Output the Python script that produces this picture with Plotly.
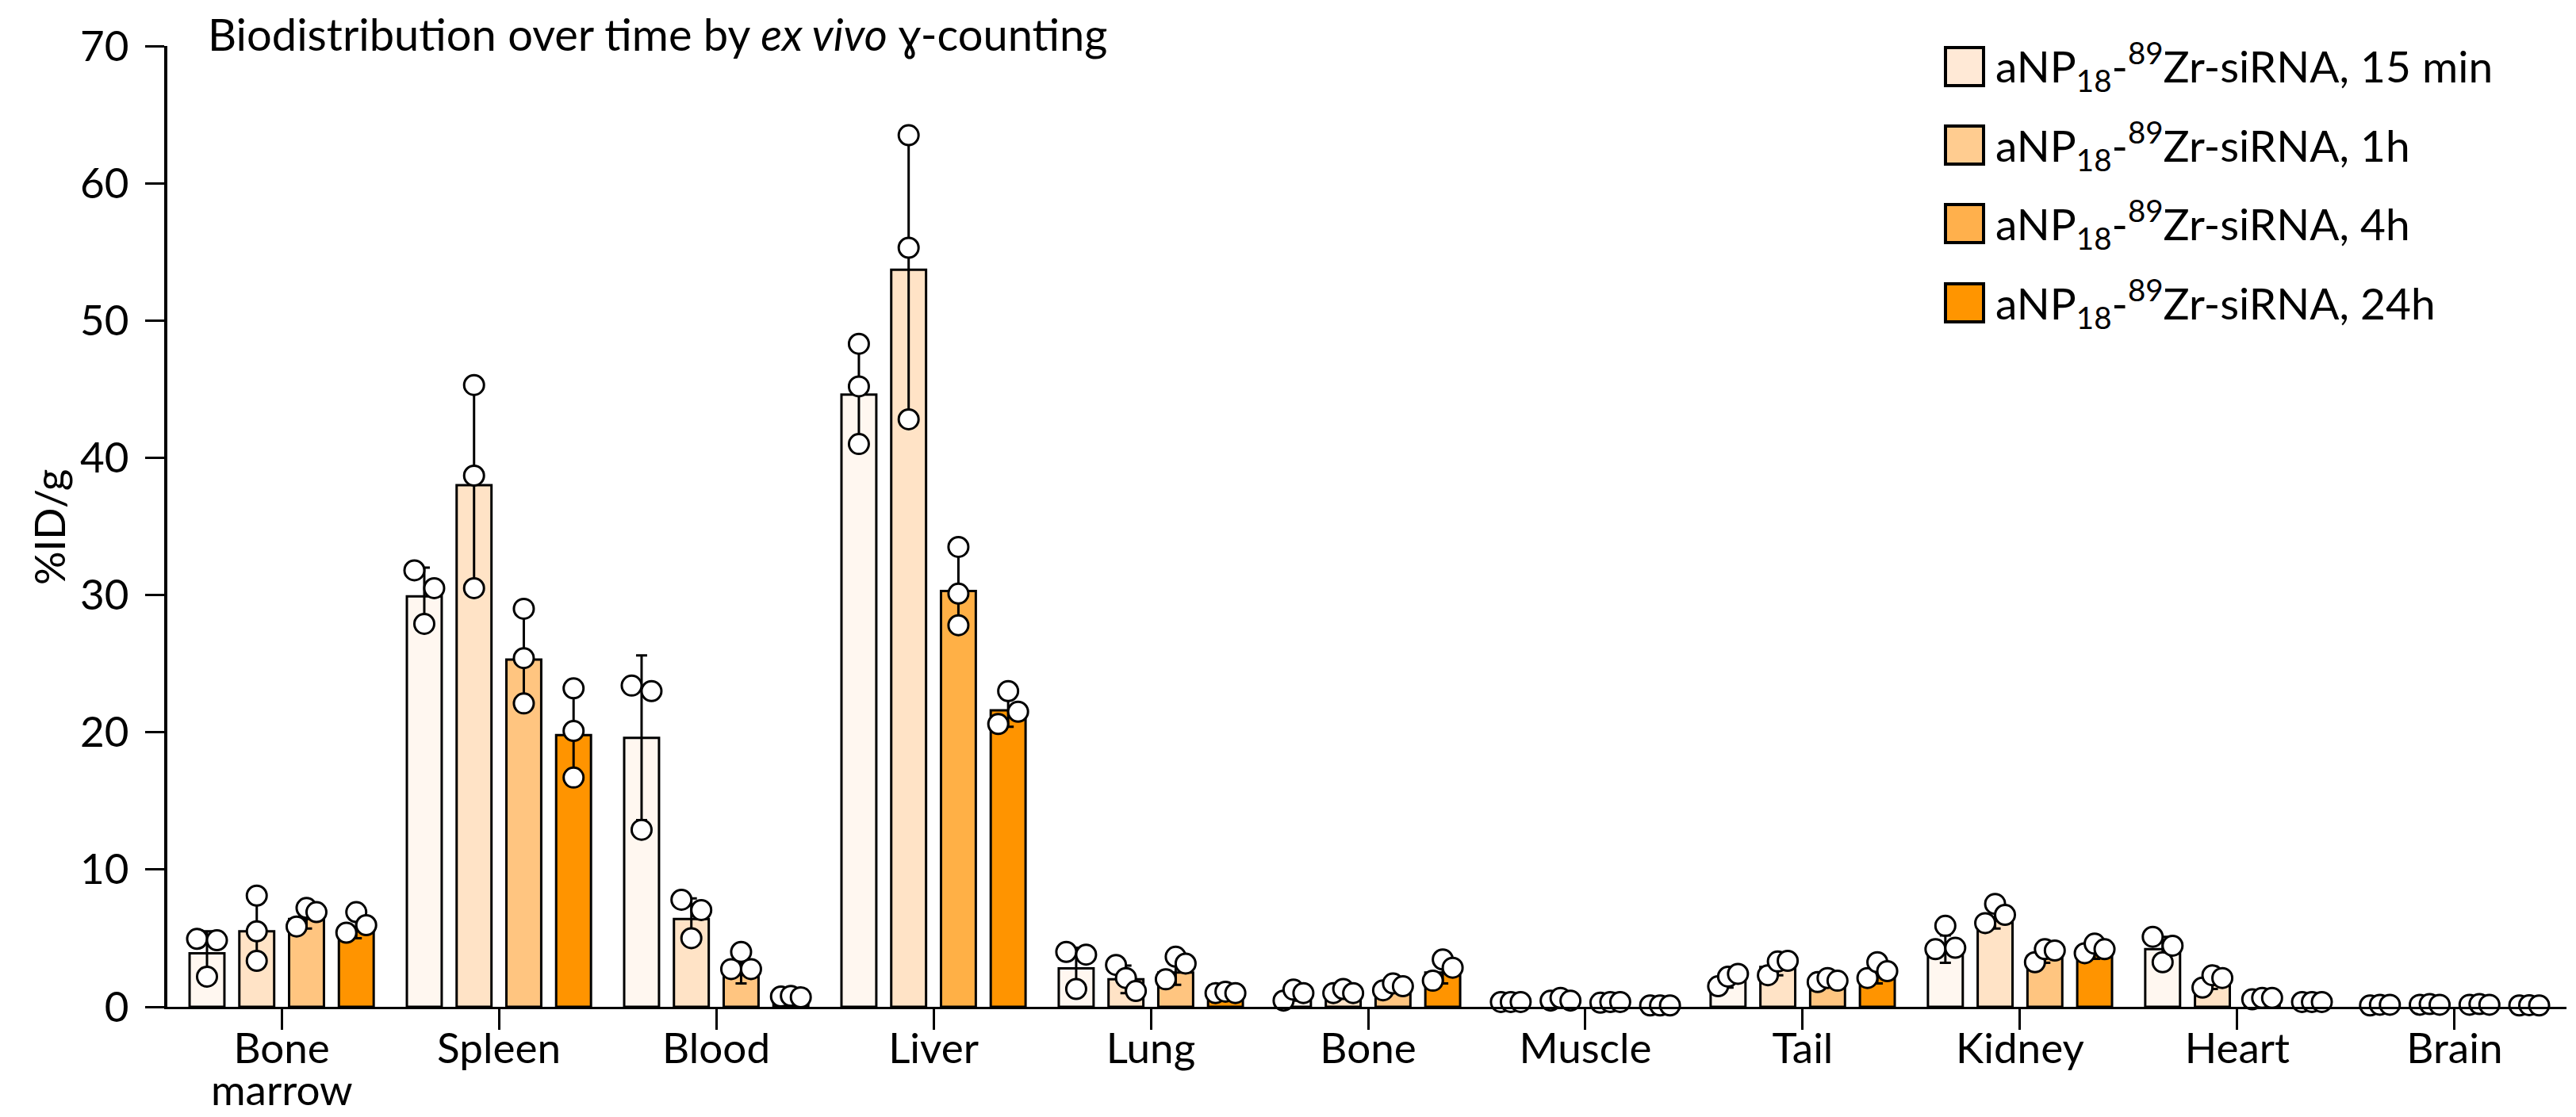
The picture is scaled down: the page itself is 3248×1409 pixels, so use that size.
import plotly.graph_objects as go

# ---------------- data ----------------
categories = ["Bone marrow", "Spleen", "Blood", "Liver", "Lung", "Bone",
              "Muscle", "Tail", "Kidney", "Heart", "Brain"]
series_names = ["15 min", "1h", "4h", "24h"]

mean_15min = [3.9, 29.9, 19.6, 44.6, 2.8, 0.85, 0.35, 1.9, 4.2, 4.2, 0.12]
mean_1h = [5.5, 38.0, 6.4, 53.7, 2.0, 1.1, 0.55, 2.9, 6.4, 1.8, 0.12]
mean_4h = [6.4, 25.3, 2.5, 30.3, 2.5, 1.4, 0.35, 1.8, 3.7, 0.6, 0.12]
mean_24h = [5.8, 19.8, 0.7, 21.6, 0.9, 2.5, 0.15, 2.3, 3.9, 0.35, 0.1]

sd_15min = [1.6, 2.1, 6.0, 3.6, 1.5, 0.4, 0.05, 0.5, 1.0, 0.9, 0.03]
sd_1h = [2.4, 7.4, 1.5, 10.4, 1.0, 0.2, 0.15, 0.6, 0.7, 0.5, 0.03]
sd_4h = [0.7, 3.4, 0.8, 2.9, 0.9, 0.3, 0.05, 0.2, 0.5, 0.1, 0.03]
sd_24h = [0.8, 3.2, 0.15, 1.2, 0.1, 0.8, 0.05, 0.6, 0.4, 0.05, 0.03]

pts_15min = [[4.95, 4.85, 2.2], [31.8, 30.5, 27.9], [23.4, 23.0, 12.9],
             [48.3, 45.2, 41.0], [4.0, 3.8, 1.3], [0.45, 1.25, 1.0],
             [0.35, 0.35, 0.35], [1.5, 2.2, 2.4], [4.2, 5.9, 4.3],
             [5.1, 3.25, 4.45], [0.1, 0.15, 0.15]]
pts_1h = [[8.1, 5.5, 3.35], [45.3, 38.7, 30.5], [7.8, 7.05, 5.0],
          [63.5, 55.3, 42.8], [3.05, 2.1, 1.15], [1.0, 1.3, 1.0],
          [0.45, 0.65, 0.45], [2.3, 3.3, 3.35], [6.1, 7.5, 6.7],
          [1.4, 2.3, 2.1], [0.15, 0.2, 0.15]]
pts_4h = [[5.85, 7.2, 6.9], [29.0, 25.4, 22.1], [2.75, 4.0, 2.75],
          [33.5, 30.1, 27.8], [2.0, 3.65, 3.15], [1.2, 1.7, 1.5],
          [0.3, 0.35, 0.35], [1.8, 2.1, 1.9], [3.25, 4.2, 4.1],
          [0.55, 0.65, 0.65], [0.15, 0.2, 0.15]]
pts_24h = [[5.4, 6.9, 5.95], [23.2, 20.1, 16.7], [0.75, 0.8, 0.7],
           [20.6, 23.0, 21.5], [1.0, 1.1, 1.0], [1.9, 3.45, 2.85],
           [0.1, 0.1, 0.1], [2.1, 3.25, 2.6], [3.9, 4.6, 4.2],
           [0.35, 0.35, 0.35], [0.1, 0.12, 0.1]]

y_ticks = [0, 10, 20, 30, 40, 50, 60, 70]

# ---------------- styles ----------------
bar_colors = ["#FFF7F0", "#FFE3C6", "#FFC580", "#FF9400"]
liver_4h_color = "#FFB046"
legend_colors = ["#FFE9D6", "#FFCC90", "#FFB04C", "#FF9500"]
FONT = "Lato"
FS = 53

W, H = 3248, 1409
L, R, T, B = 211, 12, 58, 139
XMIN, XMAX = -0.526, 10.515
YMAX = 70
PW, PH = W - L - R, H - T - B
xpx = PW / (XMAX - XMIN)
ypx = PH / YMAX
BARGAP, GROUPGAP = 0.084, 0.30
NSER = 4
SLOT = (1 - BARGAP) / NSER
DIAM, SPREAD = 27, 12.5


def px_x(x):
    return (x - L) / PW


def px_y(y):
    return (H - B - y) / PH


def jitter(vals):
    order = sorted(range(len(vals)), key=lambda k: vals[k])
    clusters = []
    for k in order:
        if clusters and (vals[k] - vals[clusters[-1][-1]]) * ypx < DIAM:
            clusters[-1].append(k)
        else:
            clusters.append([k])
    off = [0.0] * len(vals)
    for c in clusters:
        c = sorted(c)
        n = len(c)
        for r, k in enumerate(c):
            off[k] = (0 if n == 1 else -SPREAD + 2 * SPREAD * r / (n - 1)) / xpx
    return off


means = [mean_15min, mean_1h, mean_4h, mean_24h]
sds = [sd_15min, sd_1h, sd_4h, sd_24h]
pts = [pts_15min, pts_1h, pts_4h, pts_24h]
xcat = list(range(len(categories)))

# two-word labels: first word on the tick, second word on a line below
tick_first = [c.split(" ")[0] for c in categories]
tick_second = [(i, " ".join(c.split(" ")[1:])) for i, c in enumerate(categories) if " " in c]

fig = go.Figure()
for j in range(NSER):
    cols = [bar_colors[j]] * len(categories)
    if j == 2:
        cols[categories.index("Liver")] = liver_4h_color
    fig.add_trace(go.Bar(
        x=xcat, y=means[j], offsetgroup=str(j), name=series_names[j],
        marker=dict(color=cols, line=dict(color="black", width=3)),
        error_y=dict(type="data", array=sds[j], color="black", thickness=3, width=7),
        showlegend=False))

for j in range(NSER):
    xs, ys = [], []
    for i, vals in enumerate(pts[j]):
        off = jitter(vals)
        for v, o in zip(vals, off):
            xs.append(i + (j - (NSER - 1) / 2) * SLOT + o)
            ys.append(v)
    fig.add_trace(go.Scatter(
        x=xs, y=ys, mode="markers", cliponaxis=False, showlegend=False,
        marker=dict(size=25, color="white", line=dict(color="black", width=3))))

# legend drawn manually (large swatches)
legend_centers = [84, 183, 282, 382]
shapes = []
annotations = []
for j, cy in enumerate(legend_centers):
    shapes.append(dict(type="rect", xref="paper", yref="paper",
                       x0=px_x(2453), x1=px_x(2501), y0=px_y(cy + 24), y1=px_y(cy - 24),
                       fillcolor=legend_colors[j], line=dict(color="black", width=4)))
    annotations.append(dict(xref="paper", yref="paper", x=px_x(2514), y=px_y(cy),
                            xanchor="left", yanchor="middle", showarrow=False,
                            text="aNP<sub>18</sub>-<sup>89</sup>Zr-siRNA, " + series_names[j],
                            font=dict(family=FONT, size=55, color="black")))

for i, word in tick_second:
    annotations.append(dict(xref="x", yref="paper", x=i, y=px_y(1373),
                            xanchor="center", yanchor="middle", showarrow=False,
                            text=word, font=dict(family=FONT, size=FS, color="black")))

annotations.append(dict(xref="paper", yref="paper", x=px_x(62), y=px_y(665),
                        xanchor="center", yanchor="middle", showarrow=False,
                        textangle=-90, text="%ID/g",
                        font=dict(family=FONT, size=FS, color="black")))

fig.update_layout(
    width=W, height=H,
    margin=dict(l=L, r=R, t=T, b=B, pad=0, autoexpand=False),
    paper_bgcolor="white", plot_bgcolor="white",
    barmode="group", bargap=BARGAP, bargroupgap=GROUPGAP,
    font=dict(family=FONT, size=FS, color="black"),
    title=dict(text="Biodistribution over time by <i>ex vivo</i> \u0263-counting",
               xref="container", yref="container", x=262 / W, y=1 - 44 / H,
               xanchor="left", yanchor="middle", automargin=False,
               font=dict(family=FONT, size=56, color="black")),
    shapes=shapes, annotations=annotations,
    xaxis=dict(range=[XMIN, XMAX], tickmode="array", tickvals=xcat, ticktext=tick_first,
               ticks="outside", ticklen=26, tickwidth=3, tickcolor="black",
               showline=True, linewidth=3, linecolor="black", automargin=False,
               showgrid=False, zeroline=False, ticklabelstandoff=-22,
               tickfont=dict(family=FONT, size=FS, color="black")),
    yaxis=dict(range=[0, YMAX], tickmode="array", tickvals=y_ticks,
               ticks="outside", ticklen=24, tickwidth=3, tickcolor="black",
               showline=True, linewidth=4, linecolor="black", automargin=False,
               showgrid=False, zeroline=False, ticklabelstandoff=10,
               tickfont=dict(family=FONT, size=FS, color="black")),
)

fig.write_html("out.html", config={"displayModeBar": False},
               post_script="document.body.style.margin='0px';document.body.style.overflow='hidden';")
